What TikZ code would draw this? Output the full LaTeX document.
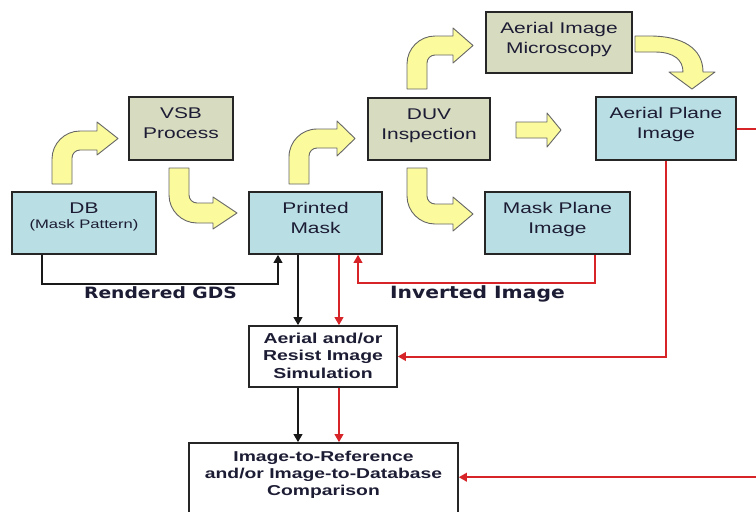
\documentclass[tikz,border=0pt]{standalone}
\usepackage{fontspec}
\usetikzlibrary{positioning, arrows.meta}

\newfontfamily\boxfont{Liberation Sans}[FakeStretch=1.35]
\newfontfamily\tagfont{DejaVu Sans}[FakeStretch=1.2]

\definecolor{maskblue}{RGB}{185,222,227}
\definecolor{toolkhaki}{RGB}{215,219,192}
\definecolor{bendyellow}{RGB}{251,251,158}
\definecolor{flowred}{RGB}{214,36,40}
\definecolor{inktext}{RGB}{28,28,52}

\tikzset{
  stage/.style={draw=black!85, line width=1.6pt, inner sep=0pt, align=center,
    text=inktext, font=\boxfont\fontsize{15.5}{20}\selectfont,
    text height=41pt, text depth=21pt},
  simbox/.style={draw=black!85, line width=1.6pt, fill=white, inner sep=0pt,
    align=center, text=inktext, font=\boxfont\bfseries\fontsize{14.4}{17.3}\selectfont,
    text height=52.2pt, text depth=8.8pt},
  tag/.style={inner sep=0pt, text=inktext, anchor=base},
  wire/.style={line width=2.4pt, black!90, -{Triangle[length=8pt,width=8.5pt]}},
  redwire/.style={line width=2pt, flowred, -{Triangle[length=8pt,width=8.5pt]}},
  bendarrow/.style={fill=bendyellow, draw=black!60, line width=0.9pt, line join=round}
}

\begin{document}
\begin{tikzpicture}[x=1pt, y=-1pt]
  \useasboundingbox (0,0) rectangle (756,512);
  \fill[white] (0,0) rectangle (756,512);
  \clip (0,0) rectangle (756,512);

  % Mask and tool boxes
  \node (db) [stage, fill=maskblue, minimum width=144pt, text height=36pt, text depth=26pt] at (84,223)
    {DB\\[-5pt]{\fontsize{12.3}{15}\selectfont (Mask Pattern)}};
  \node (vsb) [stage, fill=toolkhaki, minimum width=104pt, text depth=22pt] at (181,128.5) {VSB\\Process};
  \node (pm) [stage, fill=maskblue, minimum width=133pt] at (315.5,223) {Printed\\Mask};
  \node (duv) [stage, fill=toolkhaki, minimum width=122pt] at (429,129) {DUV\\Inspection};
  \node (aim) [stage, fill=toolkhaki, minimum width=146pt, text depth=20pt] at (559,42.5) {Aerial Image\\Microscopy};
  \node (api) [stage, fill=maskblue, minimum width=140pt, text depth=22pt] at (666,128.5) {Aerial Plane\\Image};
  \node (mpi) [stage, fill=maskblue, minimum width=145pt] at (557.5,223) {Mask Plane\\Image};

  % Simulation and comparison
  \node (sim) [simbox, minimum width=148pt] at (323,356.5) {Aerial and/or\\Resist Image\\Simulation};
  \node (cmp) [simbox, minimum width=269pt, text height=52pt, text depth=36pt,
    font=\boxfont\bfseries\fontsize{14.3}{17}\selectfont] at (323.5,487)
    {Image-to-Reference\\and/or Image-to-Database\\Comparison};

  % Yellow bent arrows
  \draw[bendarrow] (52,184) -- (52,159) .. controls (52,143.6) and (64.6,131) .. (80,131)
    -- (97,131) -- (97,122) -- (118,138.5) -- (97,155) -- (97,150) -- (80,150)
    .. controls (75.6,150) and (72,153.6) .. (72,158) -- (72,184) -- cycle;
  \draw[bendarrow] (169,168) -- (189,168) -- (189,195) .. controls (189,199.4) and (192.6,203) .. (197,203)
    -- (213,203) -- (213,197) -- (237,213) -- (213,229) -- (213,223) -- (197,223)
    .. controls (181.6,223) and (169,210.4) .. (169,195) -- cycle;
  \draw[bendarrow] (289,184) -- (289,157) .. controls (289,141.5) and (301.5,129) .. (317,129)
    -- (337,129) -- (337,121) -- (355,138.5) -- (337,156) -- (337,148) -- (317,148)
    .. controls (312.6,148) and (309,151.6) .. (309,156) -- (309,184) -- cycle;
  \draw[bendarrow] (407,89) -- (407,64) .. controls (407,48.6) and (419.6,36) .. (435,36)
    -- (453,36) -- (453,28) -- (473,45.5) -- (453,63) -- (453,55) -- (435,55)
    .. controls (430.6,55) and (427,58.6) .. (427,63) -- (427,89) -- cycle;
  \draw[bendarrow] (407,168) -- (427,168) -- (427,196) .. controls (427,200.4) and (430.6,204) .. (435,204)
    -- (453,204) -- (453,197) -- (473,214) -- (453,231) -- (453,224) -- (435,224)
    .. controls (419.6,224) and (407,211.4) .. (407,196) -- cycle;
  \draw[bendarrow] (516,122) -- (547,122) -- (547,113) -- (561,130) -- (547,147) -- (547,138) -- (516,138) -- cycle;
  \draw[bendarrow] (635,36) -- (650,36) .. controls (682,36) and (703,48) .. (703,72)
    -- (715,72) -- (692,89) -- (669,72) -- (683,72)
    .. controls (683,60) and (674,52) .. (655,52) -- (635,52) -- cycle;

  % Black data path
  \draw[wire] ([xshift=-42pt]db.south) -- ++(0,29) -| ([xshift=-37.5pt]pm.south);
  \draw[wire] ([xshift=-17.5pt]pm.south) -- ([xshift=-25pt]sim.north);
  \draw[wire] ([xshift=-25pt]sim.south) -- ([xshift=-25.5pt]cmp.north);
  \node (gds) [tag, font=\tagfont\bfseries\fontsize{15.6}{18}\selectfont] at (160.5,298) {Rendered GDS};

  % Red image path
  \draw[redwire] ([xshift=37.5pt]mpi.south) -- ++(0,28) -| ([xshift=42.5pt]pm.south);
  \draw[redwire] ([xshift=23.5pt]pm.south) -- ([xshift=16pt]sim.north);
  \draw[redwire] ([xshift=16pt]sim.south) -- ([xshift=15.5pt]cmp.north);
  \draw[redwire] (api.south) |- (sim.east);
  \draw[redwire] (api.east) -- ++(40,0) |- ([yshift=-35pt]cmp.north east);
  \node (inv) [tag, font=\tagfont\bfseries\fontsize{16.9}{20}\selectfont] at (477.5,298) {Inverted Image};
\end{tikzpicture}
\end{document}
